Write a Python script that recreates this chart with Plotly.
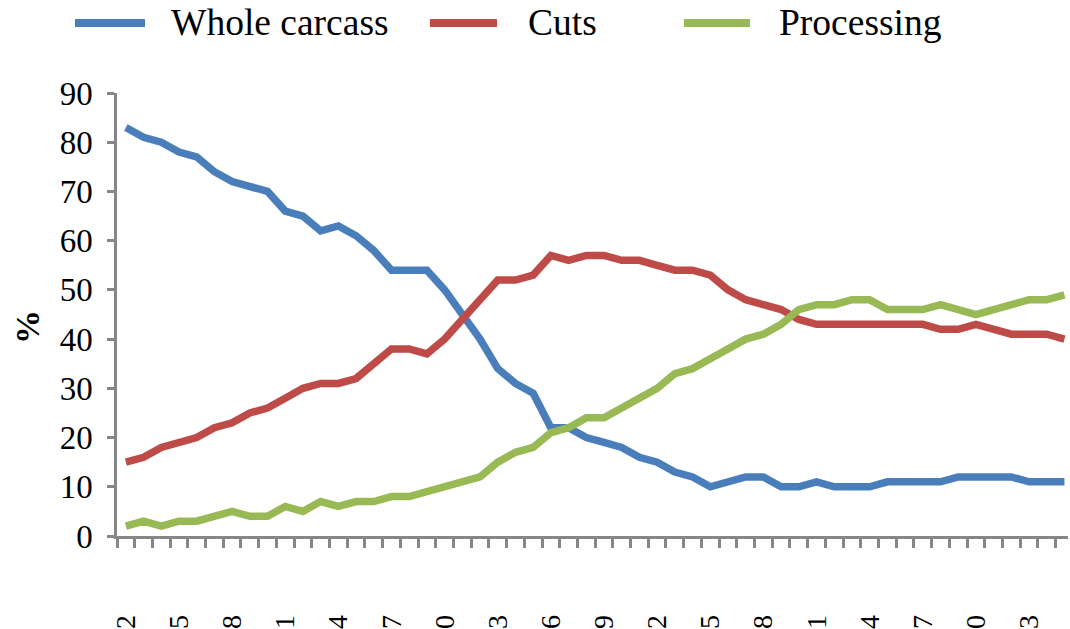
import plotly.graph_objects as go

years = list(range(1962, 2016))
whole_carcass = [83, 81, 80, 78, 77, 74, 72, 71, 70, 66, 65, 62, 63, 61, 58, 54, 54, 54, 50, 45,
                 40, 34, 31, 29, 22, 22, 20, 19, 18, 16, 15, 13, 12, 10, 11, 12, 12, 10, 10, 11,
                 10, 10, 10, 11, 11, 11, 11, 12, 12, 12, 12, 11, 11, 11]
cuts = [15, 16, 18, 19, 20, 22, 23, 25, 26, 28, 30, 31, 31, 32, 35, 38, 38, 37, 40, 44,
        48, 52, 52, 53, 57, 56, 57, 57, 56, 56, 55, 54, 54, 53, 50, 48, 47, 46, 44, 43,
        43, 43, 43, 43, 43, 43, 42, 42, 43, 42, 41, 41, 41, 40]
processing = [2, 3, 2, 3, 3, 4, 5, 4, 4, 6, 5, 7, 6, 7, 7, 8, 8, 9, 10, 11,
              12, 15, 17, 18, 21, 22, 24, 24, 26, 28, 30, 33, 34, 36, 38, 40, 41, 43, 46, 47,
              47, 48, 48, 46, 46, 46, 47, 46, 45, 46, 47, 48, 48, 49]
series_names = ["Whole carcass", "Cuts", "Processing"]
series_colors = ["#4A7EBB", "#BE4B48", "#98B954"]
tick_years = years[::3]
tick_labels = [str(y) for y in tick_years]
y_title = "%"

FONT = "Liberation Serif"
W, H = 1070, 629
ML, MR, MT, MB = 117, 2, 93, 93
PW = W - ML - MR
PH = H - MT - MB

def px_x(p):
    return (p - ML) / PW

def px_y(p):
    return (H - MB - p) / PH

fig = go.Figure()
for name, vals, col in zip(series_names, [whole_carcass, cuts, processing], series_colors):
    fig.add_trace(go.Scatter(x=years, y=vals, mode="lines", name=name,
                             line=dict(color=col, width=7.5), showlegend=False))

# manual legend
leg_samples = [(75, 145, 169), (430, 497, 526), (684, 750, 777)]
for (x0, x1, tx), name, col in zip(leg_samples, series_names, series_colors):
    fig.add_shape(type="line", xref="paper", yref="paper",
                  x0=px_x(x0), x1=px_x(x1), y0=px_y(23), y1=px_y(23),
                  line=dict(color=col, width=8))
    fig.add_annotation(xref="paper", yref="paper", x=px_x(tx), y=px_y(23),
                       text=name, showarrow=False, xanchor="left", yanchor="middle",
                       font=dict(family=FONT, size=37.5, color="black"))

# y-axis title
fig.add_annotation(xref="paper", yref="paper", x=px_x(27), y=px_y(327),
                   text="<b>" + y_title + "</b>", showarrow=False, textangle=-90,
                   xanchor="center", yanchor="middle",
                   font=dict(family=FONT, size=34, color="black"))

axis_col = "#868686"
fig.update_layout(
    width=W, height=H,
    margin=dict(l=ML, r=MR, t=MT, b=MB, autoexpand=False),
    plot_bgcolor="white", paper_bgcolor="white",
    font=dict(family=FONT, color="black"),
    xaxis=dict(range=[1961.5, 2015.2], showgrid=False, zeroline=False,
               showline=True, linecolor=axis_col, linewidth=2.5,
               ticks="", tickvals=tick_years, ticktext=tick_labels,
               tickangle=-90, tickfont=dict(family=FONT, size=28, color="black"),
               ticklabelstandoff=65, automargin=False,
               minor=dict(ticks="outside", tick0=1961.5, dtick=1, ticklen=9,
                          tickwidth=2.5, tickcolor=axis_col, showgrid=False)),
    yaxis=dict(range=[0, 90], dtick=10, showgrid=False, zeroline=False,
               showline=True, linecolor=axis_col, linewidth=2.5,
               ticks="outside", ticklen=7, tickwidth=2.5, tickcolor=axis_col,
               tickfont=dict(family=FONT, size=33, color="black"),
               ticklabelstandoff=8, automargin=False),
)

fig.write_html("out.html", config={"displayModeBar": False},
               post_script="document.body.style.margin='0';document.body.style.padding='0';")
